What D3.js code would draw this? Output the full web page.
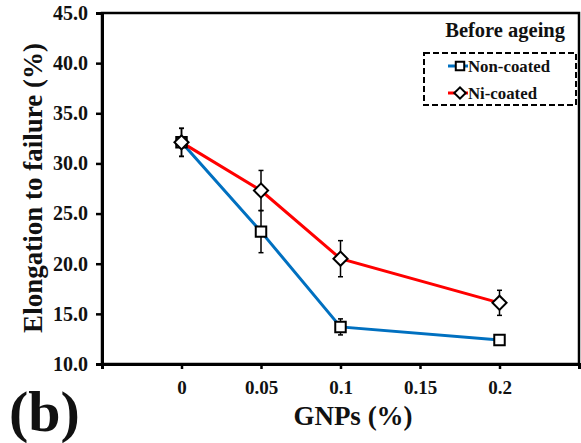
<!DOCTYPE html>
<html>
<head>
<meta charset="utf-8">
<script src="https://cdn.jsdelivr.net/npm/d3@7"></script>
<style>
  body { margin: 0; background: #fff; }
  text { font-family: "Liberation Serif", "Times New Roman", serif; font-weight: bold; fill: #111; }
</style>
</head>
<body>
<div id="chart"></div>
<script>
// chart data
const gnps = [0, 0.05, 0.1, 0.2]
const nonCoated = [32.1, 23.2, 13.7, 12.4]
const nonCoatedErr = [1.4, 2.1, 0.8, 0.3]
const niCoated = [32.1, 27.3, 20.5, 16.1]
const niCoatedErr = [1.4, 2.0, 1.8, 1.25]
const xTicks = [-0.05, 0, 0.05, 0.1, 0.15, 0.2, 0.25]
const yTicks = [10, 15, 20, 25, 30, 35, 40, 45]

const width = 581
const height = 443
const margin = {top: 13, right: 1, bottom: 79, left: 102}

const svg = d3.select("#chart").append("svg")
  .attr("width", width)
  .attr("height", height)

const x = d3.scaleLinear().domain([-0.05, 0.25]).range([margin.left, width - margin.right - 1])
const y = d3.scaleLinear().domain([10, 45]).range([height - margin.bottom, margin.top])

// frame
svg.append("rect")
  .attr("x", x(-0.05)).attr("y", y(45))
  .attr("width", x(0.25) - x(-0.05)).attr("height", y(10) - y(45))
  .attr("fill", "none").attr("stroke", "#000").attr("stroke-width", 2.5)

// x axis
const xAxis = svg.append("g")
  .attr("transform", `translate(0,${y(10)})`)
  .call(d3.axisBottom(x).tickValues(xTicks).tickSize(5)
    .tickFormat(d => (d < 0 || d > 0.21) ? "" : d3.format("~g")(d)))
xAxis.select(".domain").attr("stroke-width", 3)
xAxis.selectAll(".tick line").attr("stroke-width", 2.5)
xAxis.selectAll(".tick text").attr("font-size", 19).attr("dy", "1.15em")

// y axis
const yAxis = svg.append("g")
  .attr("transform", `translate(${x(-0.05)},0)`)
  .call(d3.axisLeft(y).tickValues(yTicks).tickSize(6).tickFormat(d3.format(".1f")))
yAxis.select(".domain").attr("stroke-width", 3)
yAxis.selectAll(".tick text").attr("font-size", 20).attr("x", -14)
yAxis.selectAll(".tick line").attr("stroke-width", 2.5)

// axis titles
svg.append("text")
  .attr("x", 353).attr("y", 425)
  .attr("text-anchor", "middle").attr("font-size", 27)
  .text("GNPs (%)")

svg.append("text")
  .attr("transform", "translate(42,188) rotate(-90)")
  .attr("text-anchor", "middle").attr("font-size", 27)
  .text("Elongation to failure (%)")

svg.append("text")
  .attr("x", 9).attr("y", 431)
  .attr("font-size", 58)
  .text("(b)")

const square = d3.symbol().type(d3.symbolSquare)

const series = [
  {name: "Non-coated", values: nonCoated, err: nonCoatedErr, color: "#0070C0", size: 110, rot: 0},
  {name: "Ni-coated", values: niCoated, err: niCoatedErr, color: "#FF0000", size: 100, rot: 45}
]

const line = d3.line().x(d => x(d[0])).y(d => y(d[1]))

// lines first, then error bars and markers on top
series.forEach(s => {
  svg.append("path")
    .datum(gnps.map((g, i) => [g, s.values[i]]))
    .attr("d", line)
    .attr("fill", "none").attr("stroke", s.color).attr("stroke-width", 3)
})

series.forEach(s => {
  const g = svg.append("g")
  gnps.forEach((gv, i) => {
    const cx = x(gv)
    const top = y(s.values[i] + s.err[i])
    const bot = y(s.values[i] - s.err[i])
    g.append("line").attr("x1", cx).attr("x2", cx).attr("y1", top).attr("y2", bot)
      .attr("stroke", "#000").attr("stroke-width", 1.5)
    ;[top, bot].forEach(yy => {
      g.append("line").attr("x1", cx - 2.5).attr("x2", cx + 2.5).attr("y1", yy).attr("y2", yy)
        .attr("stroke", "#000").attr("stroke-width", 1.5)
    })
  })
  g.selectAll("path")
    .data(gnps.map((gv, i) => [gv, s.values[i]]))
    .enter().append("path")
    .attr("transform", d => `translate(${x(d[0])},${y(d[1])}) rotate(${s.rot})`)
    .attr("d", square.size(s.size))
    .attr("fill", "#fff").attr("stroke", "#000").attr("stroke-width", 2)
})

// legend
svg.append("text")
  .attr("x", 565).attr("y", 37)
  .attr("text-anchor", "end").attr("font-size", 20.5)
  .text("Before ageing")

svg.append("rect")
  .attr("x", 424).attr("y", 53).attr("width", 152).attr("height", 52)
  .attr("fill", "none").attr("stroke", "#000").attr("stroke-width", 2)
  .attr("stroke-dasharray", "6,3")

series.forEach((s, i) => {
  const ly = 66 + i * 27
  svg.append("line").attr("x1", 448).attr("x2", 468).attr("y1", ly).attr("y2", ly)
    .attr("stroke", s.color).attr("stroke-width", 3)
  svg.append("path")
    .attr("transform", `translate(460,${ly}) rotate(${s.rot})`)
    .attr("d", square.size(s.size * 0.65)())
    .attr("fill", "#fff").attr("stroke", "#000").attr("stroke-width", 2)
  svg.append("text")
    .attr("x", 468).attr("y", ly + 6)
    .attr("font-size", 16.8)
    .text(s.name)
})
</script>
</body>
</html>
